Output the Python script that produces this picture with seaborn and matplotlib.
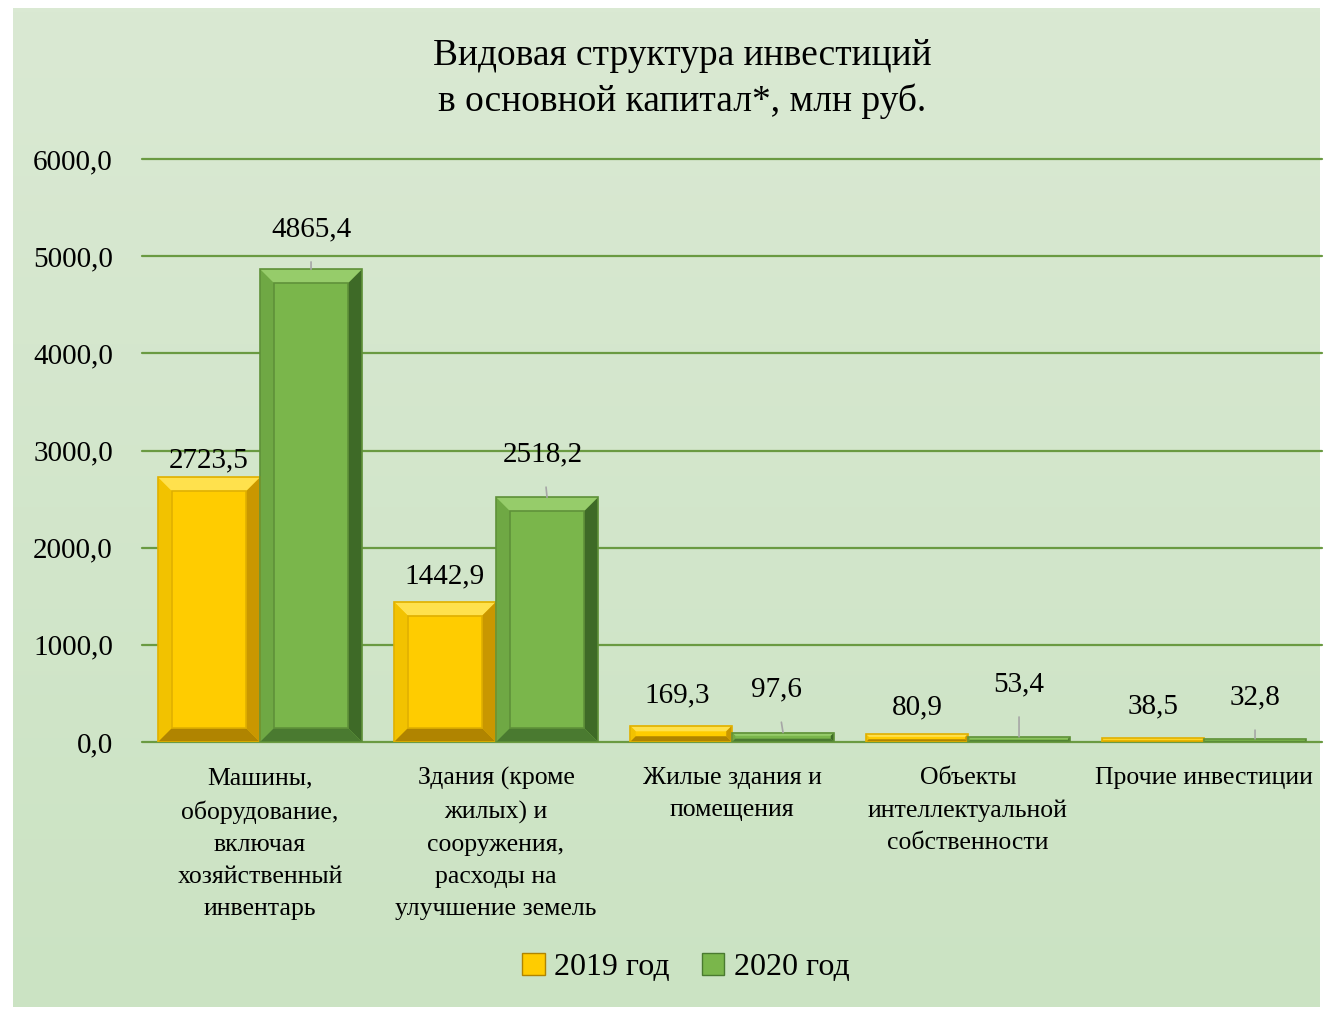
import numpy as np
import pandas as pd
import matplotlib
matplotlib.use("Agg")
import matplotlib.pyplot as plt
from matplotlib.patches import Polygon, Patch
import seaborn as sns

# ---------------- data ----------------
categories = [
    "Машины,\nоборудование,\nвключая\nхозяйственный\nинвентарь",
    "Здания (кроме\nжилых) и\nсооружения,\nрасходы на\nулучшение земель",
    "Жилые здания и\nпомещения",
    "Объекты\nинтеллектуальной\nсобственности",
    "Прочие инвестиции",
]
years = ["2019 год", "2020 год"]
values_2019 = [2723.5, 1442.9, 169.3, 80.9, 38.5]
values_2020 = [4865.4, 2518.2, 97.6, 53.4, 32.8]
yticks = [0, 1000, 2000, 3000, 4000, 5000, 6000]

# label offsets (points) relative to bar top centre
offs_2019 = [(0, 12), (0, 18), (-3, 22), (0, 19), (0, 23)]
offs_2020 = [(0, 29), (-3, 31), (-5, 31), (0, 38), (0, 30)]

df = pd.DataFrame({
    "cat": categories * 2,
    "year": [years[0]] * 5 + [years[1]] * 5,
    "val": values_2019 + values_2020,
})

sns.set_theme(style="white")
plt.rcParams["font.family"] = ["Liberation Serif", "DejaVu Serif"]
plt.rcParams["text.color"] = "black"
plt.rcParams["xtick.color"] = "black"
plt.rcParams["ytick.color"] = "black"

fig = plt.figure(figsize=(13.32, 10.09), dpi=100, facecolor="white")

# green gradient panel
bg = fig.add_axes([13 / 1332, 2 / 1009, 1307 / 1332, 999 / 1009])
top = np.array([218, 233, 211]) / 255
bot = np.array([203, 227, 195]) / 255
t = np.linspace(0, 1, 256)[:, None]
grad = top[None, :] * (1 - t) + bot[None, :] * t
bg.imshow(grad[:, None, :], aspect="auto", extent=[0, 1, 0, 1])
bg.axis("off")

ax = fig.add_axes([142 / 1332, 267 / 1009, 1180 / 1332, 583 / 1009])
ax.set_facecolor("none")

colors = ["#FFCC00", "#7AB64B"]
sns.barplot(data=df, x="cat", y="val", hue="year", palette=colors,
            width=0.865, saturation=1, legend=False, ax=ax, zorder=3,
            edgecolor="none")

ax.set_ylim(0, 6000)
ax.set_xlim(-0.5, 4.5)
ax.set_yticks(yticks)
ax.set_yticklabels([f"{v:.1f}".replace(".", ",") for v in yticks], fontsize=21)
ax.set_xticks(range(len(categories)))
ax.set_xticklabels(categories, fontsize=18.5, linespacing=1.6, va="top")
ax.tick_params(axis="x", length=0, pad=18)
ax.tick_params(axis="y", length=0, pad=21)
ax.set_xlabel("")
ax.set_ylabel("")
ax.grid(axis="y", color="#6a9a42", linewidth=1.6, zorder=0)
for gl in ax.get_ygridlines():
    gl.set_clip_on(False)
for s in ax.spines.values():
    s.set_visible(False)

# bevel shading
bevels = {
    0: ["#FFE14D", "#F2C200", "#C99700", "#B08400", "#E0B000"],
    1: ["#96CC6A", "#6FA844", "#3E6A27", "#4A7A30", "#5F9139"],
}
px_x = 1 / 236.0       # data units per pixel in x
px_y = 6000 / 583.0    # data units per pixel in y
bars = [p for p in ax.patches]
for i, p in enumerate(bars):
    grp = 0 if i < 5 else 1
    x0, w, h = p.get_x(), p.get_width(), p.get_height()
    if h <= 0:
        continue
    hpx = h / px_y
    d = min(14, hpx * 0.35)
    dx, dy = d * px_x, d * px_y
    x1 = x0 + w
    c = bevels[grp]
    polys = [
        ([(x0, h), (x1, h), (x1 - dx, h - dy), (x0 + dx, h - dy)], c[0]),
        ([(x0, 0), (x0, h), (x0 + dx, h - dy), (x0 + dx, dy)], c[1]),
        ([(x1, 0), (x1, h), (x1 - dx, h - dy), (x1 - dx, dy)], c[2]),
        ([(x0, 0), (x1, 0), (x1 - dx, dy), (x0 + dx, dy)], c[3]),
    ]
    for pts, col in polys:
        ax.add_patch(Polygon(pts, closed=True, facecolor=col, edgecolor="none", zorder=4))
    ax.add_patch(Polygon([(x0, 0), (x1, 0), (x1, h), (x0, h)], closed=True,
                         fill=False, edgecolor=c[4], linewidth=1.2, zorder=5))
    if hpx > 60:
        ax.add_patch(Polygon([(x0 + dx, dy), (x1 - dx, dy), (x1 - dx, h - dy), (x0 + dx, h - dy)],
                             closed=True, fill=False, edgecolor=c[4], linewidth=1.2, zorder=5))

# data labels
for i, p in enumerate(bars):
    grp = 0 if i < 5 else 1
    k = i % 5
    val = (values_2019 if grp == 0 else values_2020)[k]
    off = (offs_2019 if grp == 0 else offs_2020)[k]
    xc = p.get_x() + p.get_width() / 2
    txt = f"{val:.1f}".replace(".", ",")
    if grp == 1:
        ax.annotate(txt, xy=(xc, val), xytext=off, textcoords="offset points",
                    ha="center", va="center", fontsize=21, zorder=6,
                    arrowprops=dict(arrowstyle="-", color="#a6a6a6", lw=1.2,
                                    shrinkA=12, shrinkB=0))
    else:
        ax.annotate(txt, xy=(xc, val), xytext=off, textcoords="offset points",
                    ha="center", va="center", fontsize=21, zorder=6)

fig.text(0.512, 0.922, "Видовая структура инвестиций\nв основной капитал*, млн руб.",
         ha="center", va="center", fontsize=27, linespacing=1.38)

handles = [Patch(facecolor=colors[0], edgecolor="#B08400"),
           Patch(facecolor=colors[1], edgecolor="#4A7A30")]
fig.legend(handles, years, loc="center", bbox_to_anchor=(0.515, 0.041), ncol=2,
           frameon=False, fontsize=23, handlelength=0.7, handleheight=0.7,
           handletextpad=0.3, columnspacing=1.0)

fig.savefig("out.png", dpi=100, facecolor="white")
